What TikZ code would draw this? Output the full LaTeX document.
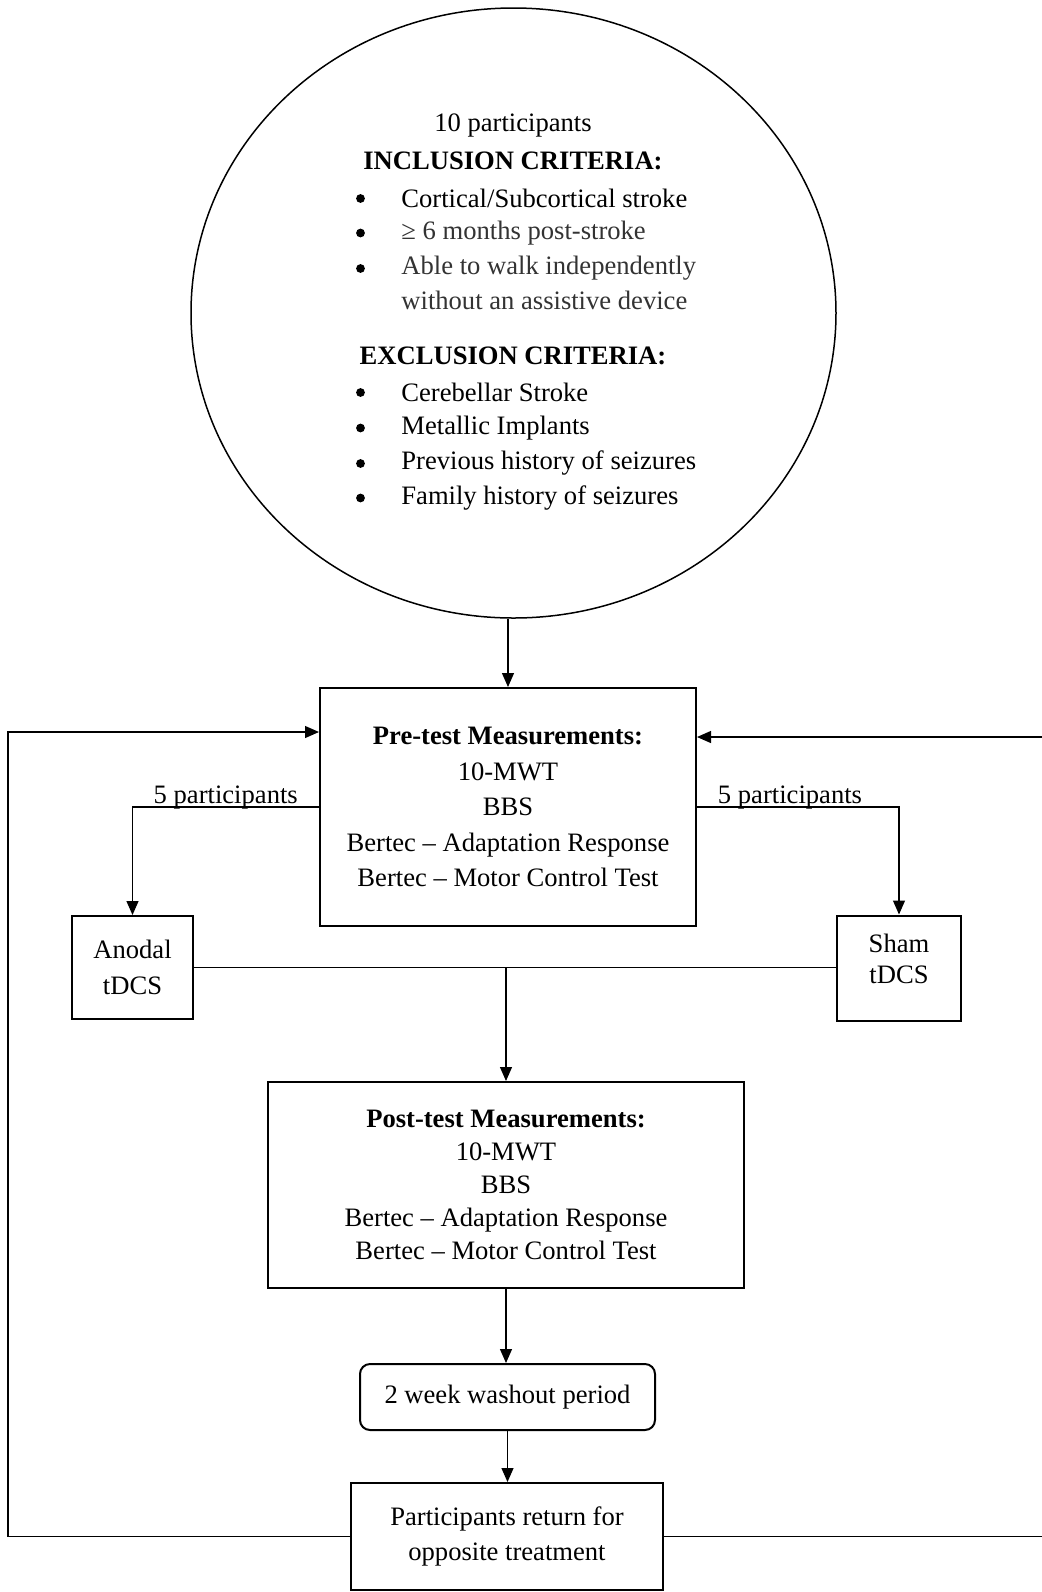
\documentclass[tikz,border=0pt]{standalone}
\usepackage{fontspec}
\setmainfont{Liberation Serif}
\usetikzlibrary{arrows.meta,positioning,shapes.geometric}

\tikzset{
	box/.style={draw, line width=1pt, align=center, inner sep=0pt},
	conn/.style={line width=0.6pt},
	item/.style={anchor=west, inner xsep=0pt},
	dot/.style={circle, fill, inner sep=0pt, minimum size=4.4pt},
	soft/.style={text=black!80}
}

\begin{document}
\begin{tikzpicture}[x=0.5pt,y=-0.5pt,
	>={Triangle[length=7pt,width=6pt]},
	every node/.style={font=\fontsize{13.3}{17.75}\selectfont}]
	\useasboundingbox (0,0) rectangle (1042,1592);
	% selection criteria
	\node (crit) [ellipse, draw, line width=0.75pt, minimum width=322.5pt, minimum height=305pt] at (513.5,313) {};
	\path (513,125) node (num) {10 participants}
		  (513,160.5) node (inc) {\bfseries INCLUSION CRITERIA:}
		  (360.5,198.5) node (b1) [dot] {}
		  (401,198) node (i1) [item] {Cortical/Subcortical stroke}
		  (360.5,233) node (b2) [dot] {}
		  (401,232.6) node (i2) [item,soft] {≥ 6 months post-stroke}
		  (360.5,268.5) node (b3) [dot] {}
		  (401,268) node (i3) [item,soft] {Able to walk independently}
		  (401,300.6) node (i3b) [item,soft] {without an assistive device}
		  (513,355.5) node (exc) {\bfseries EXCLUSION CRITERIA:}
		  (360.5,392.5) node (b4) [dot] {}
		  (401,392) node (e1) [item] {Cerebellar Stroke}
		  (360.5,428) node (b5) [dot] {}
		  (401,427.6) node (e2) [item] {Metallic Implants}
		  (360.5,463.5) node (b6) [dot] {}
		  (401,463) node (e3) [item] {Previous history of seizures}
		  (360.5,498) node (b7) [dot] {}
		  (401,497.6) node (e4) [item] {Family history of seizures};
	% study boxes
	\path (508,807) node (pre) [box, minimum width=188pt, minimum height=119pt]
			{\textbf{Pre-test Measurements:}\\10-MWT\\BBS\\Bertec -- Adaptation Response\\Bertec -- Motor Control Test}
		  (132.5,967.5) node (anodal) [box, minimum width=60.5pt, minimum height=51.5pt] {Anodal\\tDCS}
		  (899,962) node (sham) [box, minimum width=62pt, minimum height=52.5pt, yshift=-3pt,
			text depth=9pt, font=\fontsize{13.3}{15.75}\selectfont] {Sham\\tDCS}
		  (506,1185) node (post) [box, minimum width=238pt, minimum height=103pt,
			font=\fontsize{13.3}{16.4}\selectfont]
			{\textbf{Post-test Measurements:}\\10-MWT\\BBS\\Bertec -- Adaptation Response\\Bertec -- Motor Control Test}
		  (507.5,1397) node (wash) [box, rounded corners=5pt, minimum width=147.5pt, minimum height=33pt] {2 week washout period}
		  (507,1536.5) node (back) [box, minimum width=156pt, minimum height=53.5pt] {Participants return for\\opposite treatment};
	\coordinate (lloop) at (8,732);
	\coordinate (rloop) at (1046,737);
	% connectors
	\draw[conn,->] (crit.south -| pre.north) -- (pre.north);
	\draw[conn,->] (pre.west) -| node[pos=0.25, anchor=base, yshift=2pt] {5 participants} (anodal.north);
	\draw[conn,->] (pre.east) -| node[pos=0.25, anchor=base, yshift=2pt, xshift=-4pt] {5 participants} (sham.north);
	\draw[conn] (anodal.east) -- (anodal.east -| sham.west);
	\draw[conn,->] (anodal.east -| post.north) -- (post.north);
	\draw[conn,->] (post.south) -- (post.south |- wash.north);
	\draw[conn,->] (wash.south) -- (wash.south |- back.north);
	\draw[conn,->] (back.west) -| (lloop) -- (lloop -| pre.west);
	\draw[conn,->] (back.east) -| (rloop) -- (rloop -| pre.east);
\end{tikzpicture}
\end{document}
